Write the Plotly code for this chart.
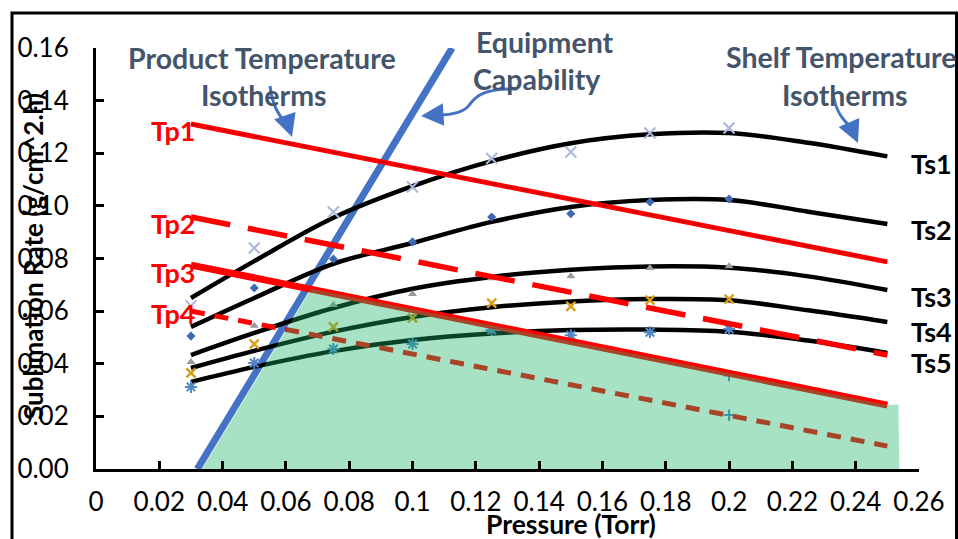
import plotly.graph_objects as go

# ---------------- data ----------------
# measured shelf-temperature data points
x_pts = [0.03, 0.05, 0.075, 0.1, 0.125, 0.15, 0.175, 0.2]
ts1_pts = [0.062, 0.084, 0.0977, 0.1072, 0.118, 0.1205, 0.1277, 0.1296]
ts2_pts = [0.0505, 0.0688, 0.0798, 0.0863, 0.0958, 0.097, 0.1015, 0.1026]
ts3_pts = [0.0407, 0.0544, 0.0623, 0.0665, 0.0725, 0.0733, 0.0764, 0.0771]
ts4_pts = [0.0365, 0.0475, 0.054, 0.0574, 0.063, 0.0618, 0.0642, 0.0646]
ts5_pts = [0.0312, 0.0403, 0.0456, 0.0475, 0.0528, 0.0508, 0.052, 0.0532]

# shelf-temperature isotherm curves
x_fit = [0.03, 0.05, 0.075, 0.1, 0.125, 0.15, 0.175, 0.2, 0.225, 0.25]
ts1_fit = [0.065, 0.079, 0.0955, 0.1075, 0.117, 0.1238, 0.1272, 0.1277, 0.124, 0.1188]
ts2_fit = [0.054, 0.065, 0.078, 0.0859, 0.0939, 0.0996, 0.1022, 0.1022, 0.0978, 0.0931]
ts3_fit = [0.0433, 0.0517, 0.0612, 0.0685, 0.073, 0.0757, 0.077, 0.0765, 0.0732, 0.068]
ts4_fit = [0.0384, 0.0449, 0.0522, 0.0578, 0.0615, 0.0637, 0.0646, 0.0641, 0.0603, 0.0559]
ts5_fit = [0.0331, 0.0388, 0.0448, 0.049, 0.0515, 0.0528, 0.053, 0.0522, 0.0488, 0.0441]

# product-temperature isotherms
tp_x = [0.03, 0.25]
tp1 = [0.1311, 0.0787]
tp2 = [0.0958, 0.0433]
tp3 = [0.0775, 0.0243]
tp4 = [0.0600, 0.0087]

# extra product points
extra_x = [0.2, 0.2]
extra_y = [0.0355, 0.0205]

# equipment capability line
eq_x = [0.032, 0.1125]
eq_y = [0.0, 0.16]

# design space (shaded) polygon
ds_x = [0.0335, 0.0680, 0.25, 0.2535, 0.2538, 0.0335]
ds_y = [0.0, 0.0685, 0.0243, 0.0245, 0.0, 0.0]

# axis ticks
x_tickvals = [0, 0.02, 0.04, 0.06, 0.08, 0.1, 0.12, 0.14, 0.16, 0.18, 0.2, 0.22, 0.24, 0.26]
x_ticktext = ["0", "0.02", "0.04", "0.06", "0.08", "0.1", "0.12", "0.14", "0.16",
              "0.18", "0.2", "0.22", "0.24", "0.26"]
y_tickvals = [0, 0.02, 0.04, 0.06, 0.08, 0.10, 0.12, 0.14, 0.16]
y_ticktext = ["0.00", "0.02", "0.04", "0.06", "0.08", "0.10", "0.12", "0.14", "0.16"]

FONT = "Lato"
W, H = 958, 539
L, R, T, B = 96, 39, 48, 70


def px(x):
    return (x - L) / (W - L - R)


def py(y):
    return (H - B - y) / (H - T - B)


fig = go.Figure()

# equipment capability (under the other lines)
fig.add_trace(go.Scatter(x=eq_x, y=eq_y, mode="lines",
                         line=dict(color="#4472C4", width=7)))

# shelf isotherm curves
for ys in [ts1_fit, ts2_fit, ts3_fit, ts4_fit, ts5_fit]:
    fig.add_trace(go.Scatter(x=x_fit, y=ys, mode="lines",
                             line=dict(color="black", width=4.5, shape="spline")))

# data markers
marker_styles = [
    (ts1_pts, dict(symbol="x-thin", size=11, color="#A9B7DE", line=dict(color="#A9B7DE", width=2))),
    (ts2_pts, dict(symbol="diamond", size=7, color="#3E68B4")),
    (ts3_pts, dict(symbol="triangle-up", size=8, color="#9A9A9A")),
    (ts4_pts, dict(symbol="x-thin", size=9, color="#D6A01C", line=dict(color="#D6A01C", width=2.5))),
    (ts5_pts, dict(symbol="asterisk", size=10, color="#4F86C6", line=dict(color="#4F86C6", width=2))),
]
for ys, mk in marker_styles:
    fig.add_trace(go.Scatter(x=x_pts, y=ys, mode="markers", marker=mk))

fig.add_trace(go.Scatter(x=extra_x, y=extra_y, mode="markers",
                         marker=dict(symbol="cross-thin", size=8, color="#4F86C6",
                                     line=dict(color="#4F86C6", width=2))))

# product isotherms
fig.add_trace(go.Scatter(x=tp_x, y=tp1, mode="lines", line=dict(color="#FF0000", width=5)))
fig.add_trace(go.Scatter(x=tp_x, y=tp1, mode="lines",
                         line=dict(color="rgba(120,0,0,0.45)", width=1.5, dash="8px,8px")))
fig.add_trace(go.Scatter(x=tp_x, y=tp2, mode="lines",
                         line=dict(color="#FF0000", width=5.5, dash="40px,18px")))
fig.add_trace(go.Scatter(x=tp_x, y=tp3, mode="lines", line=dict(color="#FF0000", width=7)))
fig.add_trace(go.Scatter(x=tp_x, y=tp4, mode="lines",
                         line=dict(color="#FF0000", width=5, dash="14px,10px")))

# translucent design space on top
fig.add_trace(go.Scatter(x=ds_x, y=ds_y, mode="lines", fill="toself",
                         fillcolor="rgba(26,179,103,0.38)", line=dict(width=0)))

ann = []
SLATE = "#44546A"


def txt(text, x, y, size, color, xanchor="center", bold=True):
    ann.append(dict(text=f"<b>{text}</b>" if bold else text, x=px(x), y=py(y),
                    xref="paper", yref="paper", xanchor=xanchor, yanchor="middle",
                    showarrow=False, font=dict(family=FONT, size=size, color=color)))


txt("Product Temperature", 262, 58, 28.5, SLATE)
txt("Isotherms", 264, 95, 28.5, SLATE)
txt("Equipment", 545, 42, 28.5, SLATE)
txt("Capability", 537, 79, 28.5, SLATE)
txt("Shelf Temperature", 841, 57, 28.5, SLATE)
txt("Isotherms", 845, 95, 28.5, SLATE)

for lab, yy in [("Ts1", 163), ("Ts2", 229), ("Ts3", 296), ("Ts4", 331), ("Ts5", 362)]:
    txt(lab, 909, yy, 27, "black", xanchor="left")
for lab, yy in [("Tp1", 130), ("Tp2", 223), ("Tp3", 272), ("Tp4", 313)]:
    txt(lab, 149, yy, 27, "#FF0000", xanchor="left")

txt("Pressure (Torr)", 571, 524, 26.5, "black")
ann.append(dict(text="<b>Sublimation Rate (g/cm^2.h)</b>", x=px(33), y=py(257),
                xref="paper", yref="paper", xanchor="center", yanchor="middle",
                textangle=-90, showarrow=False, font=dict(family=FONT, size=26, color="black")))

# arrowheads
for (hx, hy), (tx, ty) in [((292, 137), (288, 125)), ((421, 116), (437, 115)), ((858, 143), (851, 127))]:
    ann.append(dict(text="", x=px(hx), y=py(hy), xref="paper", yref="paper",
                    ax=tx - hx, ay=ty - hy, axref="pixel", ayref="pixel",
                    showarrow=True, arrowhead=2, arrowsize=1.5, arrowwidth=3,
                    arrowcolor="#4472C4"))


def path(start, segments):
    s = f"M {px(start[0])},{py(start[1])}"
    for seg in segments:
        s += " C " + " ".join(f"{px(x)},{py(y)}" for (x, y) in seg)
    return s


ARROW = dict(color="#4472C4", width=3)
shapes = [
    dict(type="path", xref="paper", yref="paper",
         path=path((270, 86), [[(272, 104), (278, 116), (288, 125)]]), line=ARROW),
    dict(type="path", xref="paper", yref="paper",
         path=path((517, 89), [[(485, 88), (476, 96), (470, 104)],
                               [(465, 112), (452, 115), (437, 115)]]), line=ARROW),
    dict(type="path", xref="paper", yref="paper",
         path=path((833, 93), [[(835, 108), (840, 118), (851, 127)]]), line=ARROW),
    dict(type="rect", xref="paper", yref="paper",
         x0=px(12), x1=px(956.5), y0=py(560), y1=py(13),
         line=dict(color="black", width=3)),
]

fig.update_layout(
    width=W, height=H,
    margin=dict(l=L, r=R, t=T, b=B),
    paper_bgcolor="white", plot_bgcolor="white",
    showlegend=False,
    annotations=ann, shapes=shapes,
    font=dict(family=FONT, color="black"),
)
fig.update_xaxes(range=[0, 0.26], tickvals=x_tickvals, ticktext=x_ticktext,
                 showgrid=False, zeroline=False, showline=True, linecolor="black", linewidth=3,
                 ticks="inside", ticklen=8, tickwidth=3, tickcolor="black",
                 ticklabelstandoff=8, tickfont=dict(family=FONT, size=26, color="black"))
fig.update_yaxes(range=[0, 0.16], tickvals=y_tickvals, ticktext=y_ticktext,
                 showgrid=False, zeroline=False, showline=True, linecolor="black", linewidth=3,
                 ticks="inside", ticklen=8, tickwidth=3, tickcolor="black",
                 ticklabelstandoff=19, tickfont=dict(family=FONT, size=26, color="black"))

fig.write_html("out.html", config={"displayModeBar": False},
               post_script="document.body.style.margin='0';")
